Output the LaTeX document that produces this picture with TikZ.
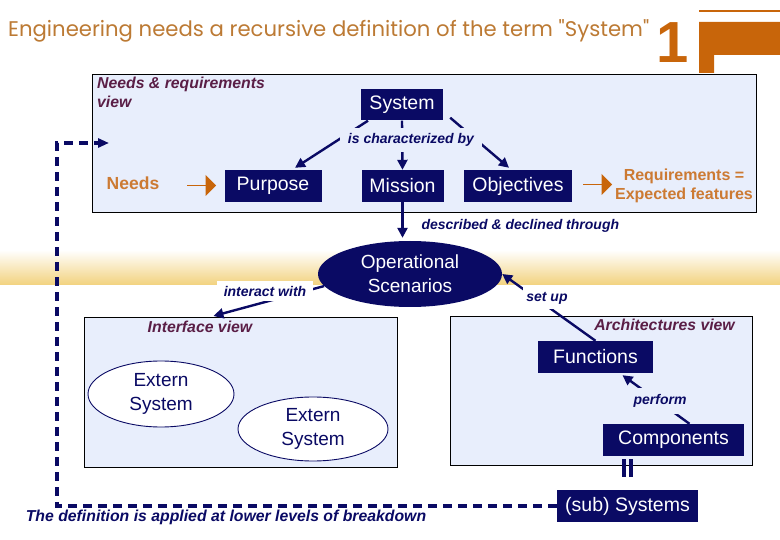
\documentclass[tikz,border=0pt]{standalone}
\usepackage{fontspec}
\setmainfont{Liberation Sans}
\newfontfamily\titlefont{Poppins}
\usetikzlibrary{arrows.meta,shapes.geometric,shapes.arrows,calc}
\definecolor{navy}{HTML}{0A0A64}
\definecolor{boxfill}{HTML}{E8EEFC}
\definecolor{maroon}{HTML}{5A1E46}
\definecolor{ochre}{HTML}{C8650A}
\definecolor{needsor}{HTML}{CC7A33}
\definecolor{titlec}{HTML}{BC7A34}
\definecolor{gold}{HTML}{F2D27E}
\begin{document}
\begin{tikzpicture}[x=1pt,y=-1pt,
  viewbox/.style={draw=black, line width=0.9pt, fill=boxfill, inner sep=0, anchor=north west},
  navybox/.style={fill=navy, text=white, inner sep=0, minimum height=32, font=\fontsize{19.5}{22}\selectfont},
  viewlbl/.style={text=maroon, font=\bfseries\itshape\fontsize{15.8}{19}\selectfont, inner sep=0},
  lbl/.style={text=navy, font=\bfseries\itshape\fontsize{14}{16}\selectfont},
  conn/.style={draw=navy, line width=2.4pt, -{Triangle[length=10pt,width=10pt]}},
  extsys/.style={ellipse, draw=navy, line width=0.9pt, fill=white, text=navy, align=center, inner sep=0, font=\fontsize{19}{24}\selectfont},
  fatarrow/.style={single arrow, fill=ochre, minimum height=29, minimum width=21, single arrow head extend=5, inner sep=0},
  fb/.style={draw=navy, line width=3.2pt, dash pattern=on 8.5pt off 6.5pt}
]
\useasboundingbox (0,0) rectangle (780,540);
% band
\shade[top color=white, bottom color=gold] (0,250) rectangle (780,285);
% title and logo
\node[anchor=west, text=titlec, font=\titlefont\fontsize{21.2}{24}\selectfont, inner sep=0] (title) at (8,31) {Engineering needs a recursive definition of the term "System"};
\node[text=ochre, font=\bfseries\fontsize{58}{60}\selectfont, inner sep=0, anchor=base] (one) at (672.5,63) {1};
\draw[ochre, line width=1.2pt] (699,11) -- (780,11);
\fill[ochre] (699,22) -- (780,22) -- (780,55) -- (714,55) -- (714,73) -- (699,73) -- cycle;
% top view
\node[viewbox, minimum width=664, minimum height=138] (nrbox) at (92,74) {};
\node[viewlbl, anchor=north west, align=left] (nrlbl) at (97,77) {Needs \& requirements\\view};
\node[navybox, minimum width=82, minimum height=31] (sys) at (402,105) {System};
\node[navybox, minimum width=97] (pur) at (273,186) {Purpose};
\node[navybox, minimum width=82] (mis) at (402.5,186) {Mission};
\node[navybox, minimum width=108] (obj) at (518,186) {Objectives};
\node[text=needsor, font=\bfseries\fontsize{17.5}{20}\selectfont] (needs) at (133,183) {Needs};
\node[text=needsor, font=\bfseries\fontsize{16}{19}\selectfont, align=center] (req) at (684,186) {Requirements =\\Expected features};
\node[fatarrow] (fa1) at (201.5,185.5) {};
\node[fatarrow] (fa2) at (597.5,184.5) {};
% scenarios
\node[ellipse, fill=navy, text=white, minimum width=184, minimum height=66, align=center, inner sep=0, font=\fontsize{19}{24}\selectfont] (ops) at (410,274) {Operational\\Scenarios};
% interface view
\node[viewbox, minimum width=313, minimum height=150] (ifc) at (84,317) {};
\node[viewlbl] (ifclbl) at (200,327) {Interface view};
\node[extsys, minimum width=146, minimum height=66] (ext1) at (161,394) {Extern\\System};
\node[extsys, minimum width=150, minimum height=64] (ext2) at (313,429) {Extern\\System};
% architecture view
\node[viewbox, minimum width=302, minimum height=149] (arch) at (450,316) {};
\node[viewlbl, anchor=east] (archlbl) at (735,325) {Architectures view};
\node[navybox, minimum width=115] (fun) at (595.5,357) {Functions};
\node[navybox, minimum width=141] (comp) at (673.5,440) {Components};
\node[navybox, minimum width=141] (sub) at (627.5,506) {(sub) Systems};
\node[lbl, font=\bfseries\itshape\fontsize{15.8}{18}\selectfont] (bottom) at (226,517) {The definition is applied at lower levels of breakdown};
% connectors
\draw[conn] ([shift={(-34,0)}]sys.south) -- ([shift={(22,-2)}]pur.north);
\draw[conn] (sys.south) -- (mis.north);
\draw[conn] ([shift={(7,-3)}]sys.south east) -- ([shift={(-9,-2)}]obj.north);
\draw[conn, shorten >=3pt] (mis.south) -- (mis.south |- ops.north);
\draw[conn] (ops.188) -- ([shift={(-27.5,-1)}]ifc.north);
\draw[conn] (fun.north) -- (ops.east);
\draw[conn] ([shift={(16,0)}]comp.north) -- ([shift={(27,2)}]fun.south);
\coordinate (bt) at (sub.north |- comp.south);
\draw[navy, line width=4pt] ([shift={(-3.5,3)}]bt) -- ([shift={(-3.5,21)}]bt) ([shift={(3.5,3)}]bt) -- ([shift={(3.5,21)}]bt);
\coordinate (fbc) at (57,143);
\coordinate (fbend) at (109,143);
\draw[fb, -{Triangle[length=11pt,width=9pt]}] (sub.west) -| (fbc) -- (fbend);
% connector labels
\node[lbl, fill=boxfill, inner xsep=8, inner ysep=5.5] (chr) at (411,140) {is characterized by};
\node[lbl, anchor=west] (decl) at (418,226) {described \& declined through};
\node[lbl, fill=white, inner xsep=7, inner ysep=5] (inter) at (265,291) {interact with};
\node[lbl, fill=white, inner xsep=3, inner ysep=5] (setup) at (547,298) {set up};
\node[lbl, fill=boxfill, inner xsep=2, inner ysep=6] (perf) at (660,401) {perform};
\end{tikzpicture}
\end{document}
